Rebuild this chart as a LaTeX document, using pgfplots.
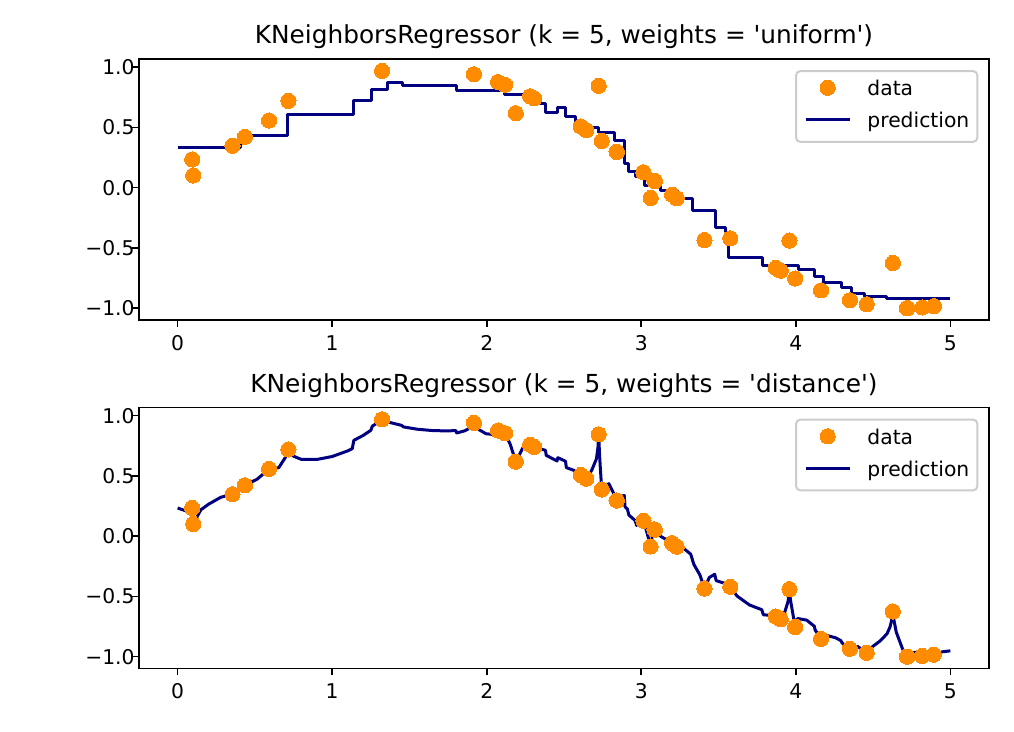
\documentclass[border=0pt]{standalone}
\usepackage{fontspec}
\setmainfont{DejaVu Sans}[Ligatures=TeXOff]
\usepackage{pgfplots}
\usepackage{pgfplotstable}
\pgfplotsset{compat=1.18}
\definecolor{darkorange}{HTML}{FF8C00}
\definecolor{navy}{HTML}{000080}
\definecolor{legedge}{gray}{0.8}

\pgfplotstableread{
x y
0.09395 0.23430
0.10109 0.10092
0.35518 0.34776
0.43565 0.42200
0.59137 0.55750
0.71677 0.71992
1.32278 0.96940
1.91721 0.94060
2.07331 0.87637
2.11827 0.85383
2.18794 0.61791
2.28075 0.75840
2.30740 0.74075
2.60924 0.50756
2.64447 0.47690
2.72442 0.84496
2.74407 0.38714
2.84022 0.29683
2.84217 0.29497
3.01382 0.12743
3.06048 -0.08575
3.08467 0.05689
3.08818 0.05339
3.19961 -0.05798
3.22947 -0.08777
3.40910 -0.43497
3.57595 -0.42082
3.87117 -0.66656
3.89078 -0.68105
3.90265 -0.68968
3.95863 -0.43950
3.99579 -0.75405
4.16310 -0.85290
4.35006 -0.93508
4.45887 -0.96804
4.62798 -0.62537
4.71874 -0.99998
4.72334 -0.99994
4.81831 -0.99440
4.89309 -0.98372
}\datatable

\pgfplotstableread{
x y
0 0.33250
0.40536 0.42962
0.71194 0.60332
1.13619 0.72188
1.25448 0.81276
1.35482 0.87202
1.45235 0.85162
1.80176 0.80942
2.11230 0.76945
2.34128 0.69569
2.38137 0.62030
2.45618 0.66571
2.51241 0.59146
2.57381 0.50268
2.72571 0.46016
2.82915 0.39027
2.89245 0.20412
2.91437 0.13807
2.96420 0.08939
3.02089 0.01880
3.12164 -0.02424
3.23479 -0.09409
3.33031 -0.18963
3.47967 -0.33362
3.54519 -0.45823
3.56606 -0.57862
3.68386 -0.57952
3.78587 -0.64617
4.01713 -0.68344
4.12042 -0.73424
4.18076 -0.78991
4.29330 -0.82709
4.35727 -0.87627
4.44322 -0.90568
4.58419 -0.91755
4.67598 -0.92068
5.0 -0.92068
}\uniformtable

\pgfplotstableread{
x y
0 0.23348
0.05 0.21121
0.09395 0.23430
0.09752 0.17155
0.10109 0.10092
0.15 0.21826
0.2 0.26496
0.28 0.32301
0.35518 0.34776
0.3954 0.37538
0.43565 0.42200
0.5135 0.47176
0.59137 0.55750
0.65407 0.56815
0.70 0.65859
0.71677 0.71992
0.75 0.66342
0.8 0.63745
0.9 0.63616
1.0 0.66105
1.1 0.70753
1.13 0.72675
1.14 0.79513
1.2 0.83550
1.25 0.87836
1.26 0.91335
1.30 0.94585
1.32278 0.96940
1.35 0.94331
1.36 0.94748
1.45 0.91937
1.46 0.90705
1.55 0.88766
1.65 0.87610
1.75 0.87336
1.80 0.87667
1.805 0.85582
1.86 0.87532
1.89 0.89719
1.91721 0.94060
1.95 0.88375
1.99526 0.85010
2.04 0.84400
2.07331 0.87637
2.09579 0.83951
2.11 0.83918
2.11827 0.85383
2.1531 0.75925
2.18794 0.61791
2.23435 0.73447
2.28075 0.75840
2.29408 0.74915
2.30740 0.74075
2.34 0.74890
2.345 0.72505
2.38 0.71263
2.385 0.67076
2.42 0.64741
2.455 0.62429
2.46 0.65158
2.51 0.62164
2.515 0.56863
2.57 0.54341
2.575 0.51274
2.60924 0.50756
2.62686 0.50537
2.64447 0.47690
2.68 0.54840
2.71 0.64268
2.72 0.73939
2.72442 0.84496
2.73 0.67809
2.73424 0.58385
2.74407 0.38714
2.79 0.43575
2.825 0.34594
2.84022 0.29683
2.84217 0.29497
2.87 0.33230
2.89 0.33753
2.895 0.24235
2.91 0.22565
2.92 0.17476
2.96 0.13022
2.97 0.08859
3.01382 0.12743
3.03715 0.02772
3.06048 -0.08575
3.07258 0.01083
3.08467 0.05689
3.08818 0.05339
3.12 0.02354
3.125 -0.00095
3.16 -0.02718
3.19961 -0.05798
3.21454 -0.06061
3.22947 -0.08777
3.236 -0.08415
3.27 -0.09683
3.32 -0.14974
3.34 -0.23354
3.38 -0.32346
3.40910 -0.43497
3.44 -0.34347
3.475 -0.31663
3.485 -0.36957
3.54 -0.39196
3.55 -0.43159
3.57595 -0.42082
3.62 -0.49733
3.70 -0.57106
3.78 -0.61077
3.79 -0.65291
3.83 -0.65658
3.87117 -0.66656
3.88098 -0.66796
3.89078 -0.68105
3.90265 -0.68968
3.93 -0.62485
3.95 -0.54094
3.95863 -0.43950
3.965 -0.52617
3.97721 -0.61706
3.99579 -0.75405
4.01 -0.68462
4.02 -0.68542
4.07 -0.69699
4.12 -0.74822
4.125 -0.77896
4.16310 -0.85290
4.21 -0.82720
4.2566 -0.84342
4.29 -0.86555
4.30 -0.88667
4.35006 -0.93508
4.40 -0.91576
4.45887 -0.96804
4.5 -0.91353
4.54342 -0.87165
4.59 -0.81097
4.61 -0.75222
4.62 -0.69833
4.62798 -0.62537
4.635 -0.69705
4.65 -0.79692
4.69 -0.93413
4.71874 -0.99998
4.72334 -0.99994
4.77 -0.96241
4.81831 -0.99440
4.8557 -0.96933
4.89309 -0.98372
4.95 -0.95968
5.0 -0.95181
}\distancetable

\pgfplotsset{
  knn/.style={
    scale only axis, width=425pt, height=130.5pt, anchor=south west,
    xmin=-0.25, xmax=5.25, ymin=-1.0985, ymax=1.0679,
    xtick={0,1,2,3,4,5}, xticklabels={0,1,2,3,4,5},
    ytick={-1,-0.5,0,0.5,1}, yticklabels={−1.0,−0.5,0.0,0.5,1.0},
    xtick pos=lower, ytick pos=left,
    tick align=outside, major tick length=3.5pt,
    tick style={black, line width=0.8pt},
    axis line style={black, line width=0.8pt},
    ticklabel style={font=\fontsize{10.15}{12}\selectfont},
    xticklabel style={inner sep=0pt, text height=7.4pt, text depth=0pt, yshift=-4pt},
    yticklabel style={inner sep=0pt, text height=7.4pt, text depth=0pt, xshift=1.5pt},
    title style={font=\fontsize{12.4}{14.8}\selectfont, at={(0.5,1)}, anchor=base, yshift=1.5pt},
    legend cell align=left,
    legend style={at={(1,1)}, anchor=north east, xshift=-5.35pt, yshift=-5.6pt,
      draw=legedge, line width=1pt, rounded corners=2pt, fill=white,
      font=\fontsize{10.15}{12}\selectfont,
      inner xsep=4pt, inner ysep=4.5pt, row sep=7pt,
      nodes={inner sep=0pt, text height=6.5pt, text depth=2.5pt}},
    legend image code/.code={
      \draw[mark repeat=2,mark phase=2,#1] plot coordinates {(0pt,2pt) (11pt,2pt) (22pt,2pt)};
      \path (0pt,0pt) (30.15pt,0pt);},
  },
  datastyle/.style={only marks, mark=*, mark size=3.8pt, color=darkorange,
    mark options={draw=darkorange, fill=darkorange, line width=0pt}},
  predstyle/.style={navy, line width=1.5pt, line join=round, mark=none},
}

\begin{document}
\begin{tikzpicture}
\useasboundingbox (0pt,0pt) rectangle (507pt,366pt);
\begin{axis}[knn, at={(69.5pt,206pt)},
  title={KNeighborsRegressor (k = 5, weights = 'uniform')}]
  \addplot[datastyle] table[x=x,y=y] {\datatable};
  \addlegendentry{data}
  \addplot[predstyle, const plot, legend image post style={sharp plot}] table[x=x,y=y] {\uniformtable};
  \addlegendentry{prediction}
\end{axis}
\begin{axis}[knn, at={(69.5pt,31.75pt)},
  title={KNeighborsRegressor (k = 5, weights = 'distance')}]
  \addplot[datastyle] table[x=x,y=y] {\datatable};
  \addlegendentry{data}
  \addplot[predstyle] table[x=x,y=y] {\distancetable};
  \addlegendentry{prediction}
\end{axis}
\end{tikzpicture}
\end{document}
